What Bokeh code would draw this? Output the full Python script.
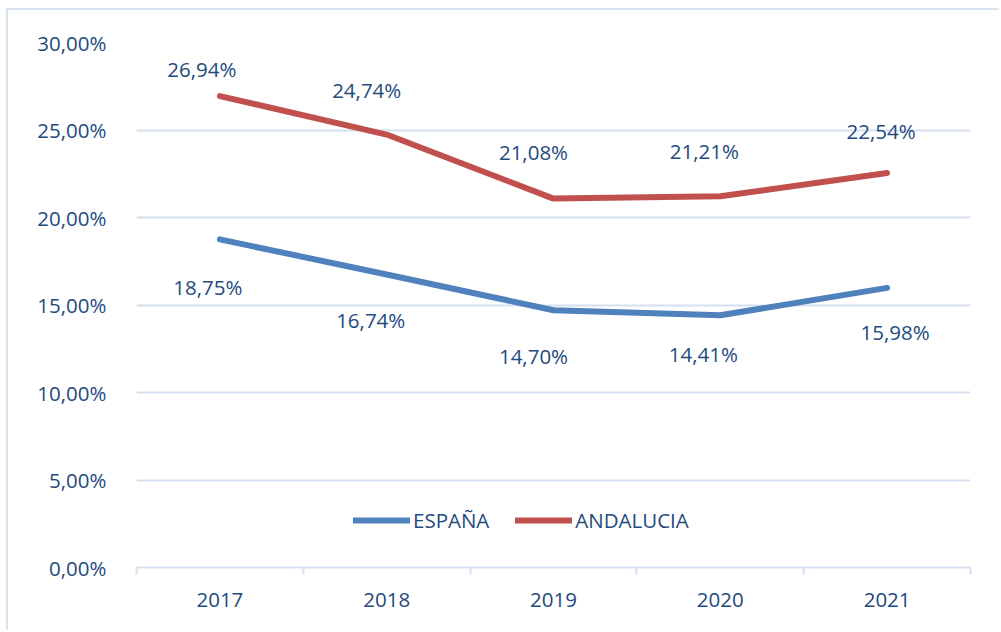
from bokeh.plotting import figure
from bokeh.models import ColumnDataSource, FixedTicker, Legend, LegendItem
from bokeh.core.properties import value
from bokeh.embed import file_html
from bokeh.resources import INLINE

years = [2017, 2018, 2019, 2020, 2021]
espana = [18.75, 16.74, 14.70, 14.41, 15.98]
andalucia = [26.94, 24.74, 21.08, 21.21, 22.54]
y_ticks = [0, 5, 10, 15, 20, 25, 30]

# label offsets (pixels) - styling
and_dx = [-18, -20, -20, -16, -6]
and_dy = [-27, -45, -47, -45, -42]
esp_dx = [-12, -16, -20, -17, 8]
esp_dy = [48, 45, 46, 39, 44]

FONT = "Open Sans"
TXT = "#234A7E"
GRID = "#D6E0F0"
BLUE = "#4F81BD"
RED = "#C0504D"

def fmt(v):
    return f"{v:.2f}".replace(".", ",") + "%"

p = figure(width=993, height=622, output_backend="svg", toolbar_location=None,
           x_range=(years[0] - 0.5, years[-1] + 0.5), y_range=(0, 30),
           min_border_left=128, min_border_right=31, min_border_top=32, min_border_bottom=65)
p.styles = {"margin-left": "6px", "margin-top": "8px",
            "border-top": "2px solid #D9E2F0", "border-left": "2px solid #D9E2F0"}
p.outline_line_color = None
p.background_fill_color = "white"
p.border_fill_color = "white"

# y axis
p.yaxis.ticker = FixedTicker(ticks=y_ticks)
p.yaxis.major_label_overrides = {t: fmt(t) for t in y_ticks}
p.yaxis.axis_line_color = None
p.yaxis.major_tick_line_color = None
p.yaxis.minor_tick_line_color = None
p.yaxis.major_label_standoff = 24
p.yaxis.major_label_text_font = FONT
p.yaxis.major_label_text_font_size = "20.5px"
p.yaxis.major_label_text_color = TXT

# x axis
bounds = [years[0] - 0.5 + i for i in range(len(years) + 1)]
p.xaxis.ticker = FixedTicker(ticks=years, minor_ticks=bounds)
p.xaxis.major_label_overrides = {y: str(y) for y in years}
p.xaxis.axis_line_color = GRID
p.xaxis.axis_line_width = 2
p.xaxis.major_tick_line_color = None
p.xaxis.minor_tick_line_color = GRID
p.xaxis.minor_tick_line_width = 2
p.xaxis.minor_tick_in = 0
p.xaxis.minor_tick_out = 7
p.xaxis.major_label_standoff = 18
p.xaxis.major_label_text_font = FONT
p.xaxis.major_label_text_font_size = "20.5px"
p.xaxis.major_label_text_color = TXT

p.xgrid.grid_line_color = None
p.ygrid.ticker = FixedTicker(ticks=y_ticks)
p.ygrid.grid_line_color = GRID
p.ygrid.grid_line_width = 2

src = ColumnDataSource(dict(
    x=years, esp=espana, anda=andalucia,
    esp_lbl=[fmt(v) for v in espana], and_lbl=[fmt(v) for v in andalucia],
    and_dx=and_dx, and_dy=and_dy, esp_dx=esp_dx, esp_dy=esp_dy,
))

r_esp = p.line("x", "esp", source=src, line_color=BLUE, line_width=6, line_cap="round", line_join="round")
r_and = p.line("x", "anda", source=src, line_color=RED, line_width=6, line_cap="round", line_join="round")

p.text("x", "anda", text="and_lbl", source=src, x_offset="and_dx", y_offset="and_dy",
       text_align="center", text_baseline="middle", text_font=value(FONT),
       text_font_size="20.5px", text_color=TXT)
p.text("x", "esp", text="esp_lbl", source=src, x_offset="esp_dx", y_offset="esp_dy",
       text_align="center", text_baseline="middle", text_font=value(FONT),
       text_font_size="20.5px", text_color=TXT)

legend = Legend(items=[LegendItem(label="ESPAÑA", renderers=[r_esp]),
                       LegendItem(label="ANDALUCIA", renderers=[r_and])],
                orientation="horizontal", location=(217, 33))
legend.border_line_color = None
legend.background_fill_alpha = 0
legend.padding = 0
legend.margin = 0
legend.spacing = 26
legend.glyph_width = 57
legend.label_standoff = 3
legend.label_text_font = FONT
legend.label_text_font_size = "20.5px"
legend.label_text_color = TXT
p.add_layout(legend, "center")

open("out.html", "w").write(file_html(p, INLINE))
